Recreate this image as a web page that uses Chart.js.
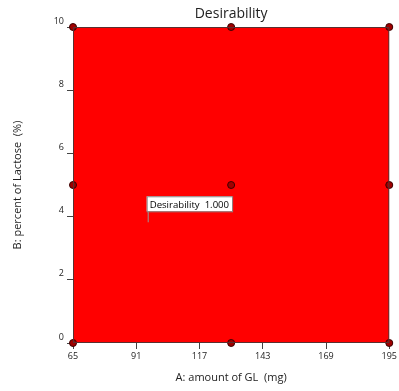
<!DOCTYPE html>
<html>
<head>
<meta charset="utf-8">
<script src="https://cdn.jsdelivr.net/npm/chart.js@4/dist/chart.umd.min.js"></script>
<style>
  html, body { margin: 0; padding: 0; background: #fff; }
  #wrap { width: 399px; height: 391px; }
</style>
</head>
<body>
<div id="wrap"><canvas id="chartDesir"></canvas></div>
<script>
// design points (A: amount of GL, B: percent of Lactose)
const designA = [65, 130, 195, 65, 130, 195, 65, 130, 195];
const designB = [0, 0, 0, 5, 5, 5, 10, 10, 10];

// region of the response (desirability = 1 everywhere)
const regionA = [65, 195];
const regionB = [10, 10];

const xTicks = [65, 91, 117, 143, 169, 195];
const yTicks = [0, 2, 4, 6, 8, 10];

// flag label
const flagA = [95.7];
const flagB = [3.82];
const flagText = ["Desirability  1.000"];

const chartTitle = "Desirability";
const fontFam = "'Open Sans', 'Noto Sans', sans-serif";

const framePlugin = {
  id: "frame",
  afterDatasetsDraw(chart) {
    const { ctx, chartArea: a } = chart;
    ctx.save();
    ctx.strokeStyle = "#5a3030";
    ctx.lineWidth = 1;
    ctx.strokeRect(a.left + 0.5, a.top + 0.5, a.right - a.left - 1, a.bottom - a.top - 1);
    ctx.restore();
  },
  afterDraw(chart) {
    const { ctx, scales, chartArea: a } = chart;
    ctx.save();
    // title centred over the plot area
    ctx.font = "14px " + fontFam;
    ctx.fillStyle = "#222";
    ctx.textAlign = "center";
    ctx.textBaseline = "alphabetic";
    ctx.fillText(chartTitle, (a.left + a.right) / 2, a.top - 9);

    ctx.textAlign = "left";
    ctx.font = "9.6px " + fontFam;
    flagA.forEach((v, i) => {
      const px = scales.x.getPixelForValue(v);
      const py = scales.y.getPixelForValue(flagB[i]);
      const w = ctx.measureText(flagText[i]).width + 6;
      const h = 15;
      const bx = px - 1, by = py - 11 - h;
      ctx.strokeStyle = "#999";
      ctx.beginPath();
      ctx.moveTo(px + 0.5, py);
      ctx.lineTo(px + 0.5, by + h);
      ctx.stroke();
      ctx.fillStyle = "#fff";
      ctx.fillRect(bx, by, w, h);
      ctx.strokeStyle = "#888";
      ctx.strokeRect(bx + 0.5, by + 0.5, w, h);
      ctx.fillStyle = "#000";
      ctx.textBaseline = "middle";
      ctx.fillText(flagText[i], bx + 3, by + h / 2 + 1);
    });
    ctx.restore();
  }
};

new Chart(document.getElementById("chartDesir"), {
  type: "scatter",
  data: {
    datasets: [
      {
        label: "Design points",
        data: designA.map((a, i) => ({ x: a, y: designB[i] })),
        order: 0,
        clip: false,
        pointRadius: 3.5,
        pointBackgroundColor: "#a00000",
        pointBorderColor: "#3a0000",
        pointBorderWidth: 1,
        showLine: false
      },
      {
        label: "Desirability",
        data: regionA.map((a, i) => ({ x: a, y: regionB[i] })),
        order: 1,
        showLine: true,
        pointRadius: 0,
        borderColor: "#5a3030",
        borderWidth: 1,
        backgroundColor: "#ff0000",
        fill: "origin"
      }
    ]
  },
  options: {
    responsive: true,
    maintainAspectRatio: false,
    animation: false,
    layout: { padding: { left: 0, right: 8, top: 27, bottom: 0 } },
    plugins: {
      legend: { display: false },
      tooltip: { enabled: false },
      title: { display: false }
    },
    scales: {
      x: {
        type: "linear",
        min: 65,
        max: 195,
        afterBuildTicks(scale) { scale.ticks = xTicks.map(v => ({ value: v })); },
        afterFit(scale) { scale.height = 48; },
        grid: { display: true, drawOnChartArea: false, drawTicks: true, tickLength: 6, color: "#444" },
        border: { display: false },
        ticks: { color: "#222", padding: 2, font: { family: fontFam, size: 9 }, maxRotation: 0 },
        title: {
          display: true,
          text: "A: amount of GL  (mg)",
          color: "#222",
          font: { family: fontFam, size: 11 },
          padding: { top: 0, bottom: 7 }
        }
      },
      y: {
        type: "linear",
        min: 0,
        max: 10,
        afterBuildTicks(scale) { scale.ticks = yTicks.map(v => ({ value: v })); },
        afterFit(scale) { scale.width = 73; },
        grid: { display: true, drawOnChartArea: false, drawTicks: true, tickLength: 6, color: "#444" },
        border: { display: false },
        ticks: { color: "#222", padding: 3, labelOffset: -6, font: { family: fontFam, size: 9 } },
        title: {
          display: true,
          text: "B: percent of Lactose  (%)",
          color: "#222",
          font: { family: fontFam, size: 11 },
          padding: { top: 11, bottom: 0 }
        }
      }
    }
  },
  plugins: [framePlugin]
});
</script>
</body>
</html>
